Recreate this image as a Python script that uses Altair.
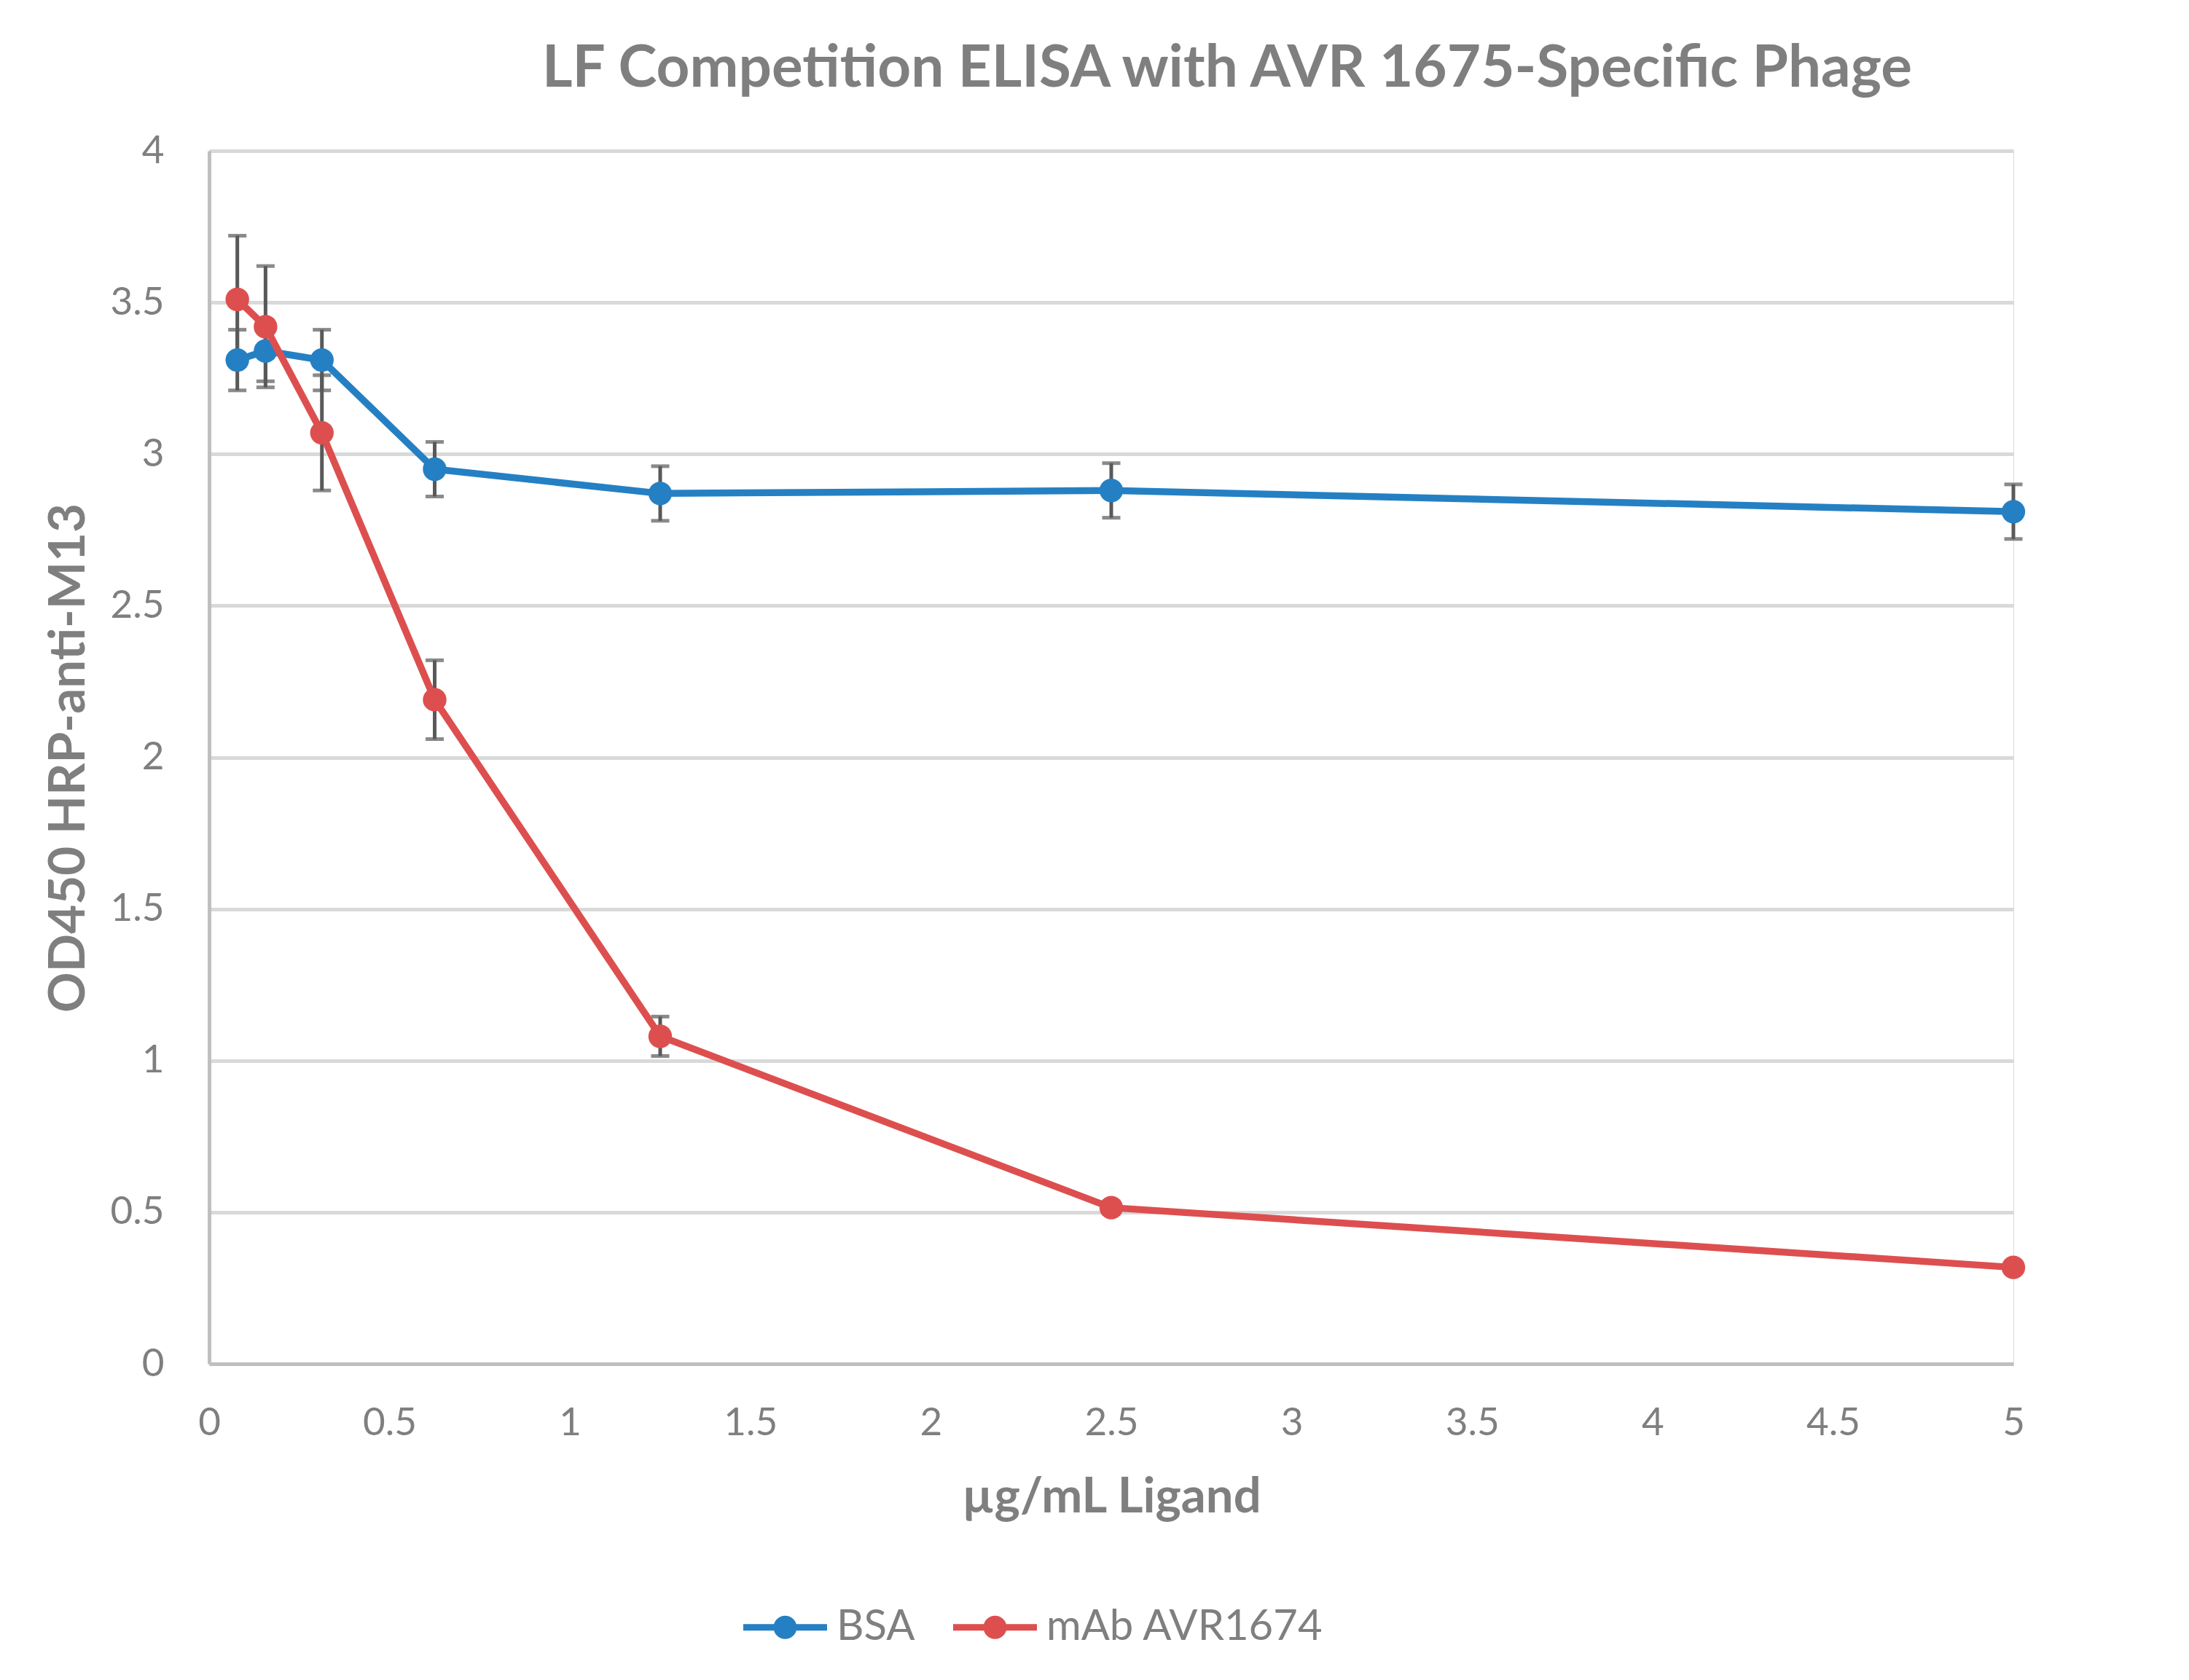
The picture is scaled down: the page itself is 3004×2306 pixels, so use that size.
import altair as alt
import pandas as pd

# ---- data ----
conc = [0.078125, 0.15625, 0.3125, 0.625, 1.25, 2.5, 5]
bsa = [3.31, 3.34, 3.31, 2.95, 2.87, 2.88, 2.81]
bsa_err = [0.10, 0.10, 0.10, 0.09, 0.09, 0.09, 0.09]
mab = [3.51, 3.42, 3.07, 2.19, 1.08, 0.515, 0.318]
mab_err = [0.21, 0.20, 0.19, 0.13, 0.065, 0.02, 0.01]
series_names = ["BSA", "mAb AVR1674"]
series_colors = ["#2580c3", "#dd4f4f"]
x_ticks = [0, 0.5, 1, 1.5, 2, 2.5, 3, 3.5, 4, 4.5, 5]
y_ticks = [0, 0.5, 1, 1.5, 2, 2.5, 3, 3.5, 4]

rows = []
for name, vals, errs in [(series_names[0], bsa, bsa_err), (series_names[1], mab, mab_err)]:
    for xv, yv, ev in zip(conc, vals, errs):
        rows.append({"x": xv, "series": name, "y": yv, "lo": yv - ev, "hi": yv + ev})
df = pd.DataFrame(rows)

FONT = "Lato"
GREY = "#7f7f7f"

legend_path = ("M-1,-0.078 L1,-0.078 L1,0.078 L-1,0.078 Z "
               "M-0.278,0 A0.278,0.278 0 1,1 0.278,0 A0.278,0.278 0 1,1 -0.278,0 Z")

legend = alt.Legend(
    title=None, orient="none", direction="horizontal",
    legendX=733, legendY=1969,
    symbolType=legend_path, symbolSize=13225, symbolStrokeWidth=0,
    labelFont=FONT, labelFontSize=58, labelColor=GREY, labelOffset=13,
    labelLimit=2000, columnPadding=52, padding=0,
)

color = alt.Color("series:N", scale=alt.Scale(domain=series_names, range=series_colors), legend=legend)

xscale = alt.Scale(domain=[0, 5], nice=False)
yscale = alt.Scale(domain=[0, 4], nice=False)
xaxis = alt.Axis(values=x_ticks, title="µg/mL Ligand", grid=False, format="~g",
                 ticks=False, tickSize=0, labelPadding=55,
                 labelFont=FONT, labelFontSize=53, labelColor=GREY,
                 domainColor="#bfbfbf", domainWidth=5,
                 titleFont=FONT, titleFontSize=67, titleFontWeight="bold",
                 titleColor=GREY, titleBaseline="alphabetic", titleY=203,
                 labelFlush=False)
yaxis = alt.Axis(values=y_ticks, title="OD450 HRP-anti-M13", grid=True, format="~g",
                 gridColor="#d9d9d9", gridWidth=5,
                 ticks=False, tickSize=0, labelPadding=62,
                 labelFont=FONT, labelFontSize=53, labelColor=GREY,
                 domainColor="#bfbfbf", domainWidth=5,
                 titleFont=FONT, titleFontSize=69, titleFontWeight="bold",
                 titleColor=GREY, titleBaseline="alphabetic",
                 titleX=-172, titleY=833, titleAngle=270,
                 labelFlush=False)

xenc = alt.X("x:Q", scale=xscale, axis=xaxis, title="µg/mL Ligand")
yenc = alt.Y("y:Q", scale=yscale, axis=yaxis, title="OD450 HRP-anti-M13")

base = alt.Chart(df)

err = base.mark_errorbar(ticks=True, color="#595959", thickness=5, size=25).encode(
    x=xenc,
    y=alt.Y("lo:Q", scale=yscale, axis=yaxis, title="OD450 HRP-anti-M13"),
    y2="hi:Q",
)

layers = [err]
for name in series_names:
    sub = base.transform_filter(alt.datum.series == name)
    layers.append(sub.mark_line(strokeWidth=9.5).encode(x=xenc, y=yenc, color=color))
    layers.append(sub.mark_point(filled=True, size=1050, opacity=1).encode(x=xenc, y=yenc, color=color))

chart = alt.layer(*layers).properties(
    width=2476, height=1665,
    title=alt.TitleParams(
        text="LF Competition ELISA with AVR 1675-Specific Phage",
        font=FONT, fontSize=80, fontWeight="bold", color=GREY,
        anchor="middle", frame="group", dx=159, dy=64, offset=46, baseline="alphabetic",
    ),
    autosize=alt.AutoSizeParams(type="none"),
    padding={"left": 279, "top": 199, "right": 233, "bottom": 420},
).configure_view(stroke=None).configure(background="white")

chart.save("out.html", embed_options={"renderer": "svg", "actions": False})
